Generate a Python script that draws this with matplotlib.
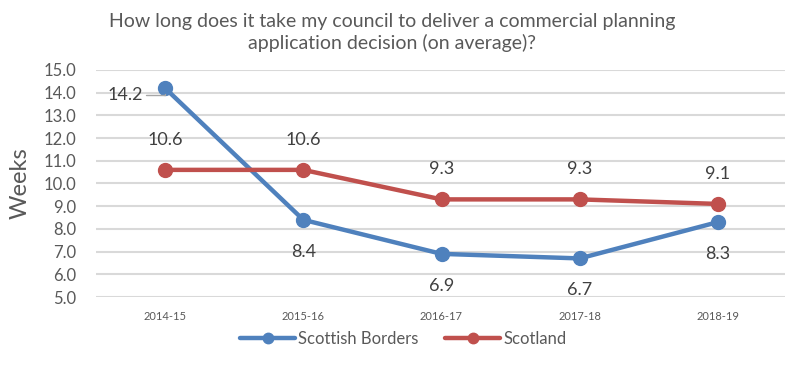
import matplotlib
matplotlib.use("Agg")
import matplotlib.pyplot as plt

years = ["2014-15", "2015-16", "2016-17", "2017-18", "2018-19"]
borders = [14.2, 8.4, 6.9, 6.7, 8.3]
scotland = [10.6, 10.6, 9.3, 9.3, 9.1]

plt.rcParams['font.family'] = ['Lato', 'DejaVu Sans']
grey = '#595959'
blue = '#4F81BD'
red = '#C0504D'

fig = plt.figure(figsize=(7.85, 3.68), dpi=100)
ax = fig.add_axes([96 / 785, 1 - 297 / 368, 691 / 785, 227 / 368])

x = range(len(years))
ax.plot(x, borders, color=blue, lw=3.2, marker='o', ms=10,
        solid_capstyle='round', label='Scottish Borders', zorder=3)
ax.plot(x, scotland, color=red, lw=3.2, marker='o', ms=10,
        solid_capstyle='round', label='Scotland', zorder=3)

# value labels: borders below, scotland above
for i, v in enumerate(borders):
    if i == 0:
        ax.annotate(f"{v:.1f}", (i, v), xytext=(-40, -7), textcoords='offset pixels',
                    ha='center', va='center', fontsize=13, color='#404040',
                    arrowprops=dict(arrowstyle='-', color='#A6A6A6', lw=1,
                                    connectionstyle='angle,angleA=0,angleB=90,rad=0',
                                    shrinkA=0, shrinkB=4))
    else:
        ax.annotate(f"{v:.1f}", (i, v), xytext=(0, -32), textcoords='offset pixels',
                    ha='center', va='center', fontsize=13, color='#404040')
for i, v in enumerate(scotland):
    ax.annotate(f"{v:.1f}", (i, v), xytext=(0, 30), textcoords='offset pixels',
                ha='center', va='center', fontsize=13, color='#404040')

ax.set_xlim(-0.5, len(years) - 0.5)
ax.set_ylim(5, 15)
ax.set_yticks(range(5, 16))
ax.set_yticklabels([f"{t:.1f}" for t in range(5, 16)], fontsize=12, color=grey)
ax.set_xticks(list(x))
ax.set_xticklabels(years, fontsize=8, color=grey)
ax.tick_params(length=0, axis='both')
ax.tick_params(axis='x', pad=10)
ax.tick_params(axis='y', pad=14)
ax.grid(axis='y', color='#D9D9D9', lw=1.5)
ax.set_axisbelow(True)
for s in ax.spines.values():
    s.set_visible(False)

ax.set_ylabel("Weeks", fontsize=17, color=grey)
ax.yaxis.set_label_coords(-0.095, 0.5)

fig.text(0.5, 0.912, "How long does it take my council to deliver a commercial planning\n"
         "application decision (on average)?", ha='center', va='center',
         fontsize=14, color=grey, linespacing=1.3)

leg = ax.legend(loc='center', bbox_to_anchor=(0.445, -0.185),
                ncol=2, frameon=False, fontsize=12, handlelength=3.3,
                columnspacing=1.6, handletextpad=0.2, markerscale=0.75)
for t in leg.get_texts():
    t.set_color(grey)

fig.savefig("out.png", dpi=100)
